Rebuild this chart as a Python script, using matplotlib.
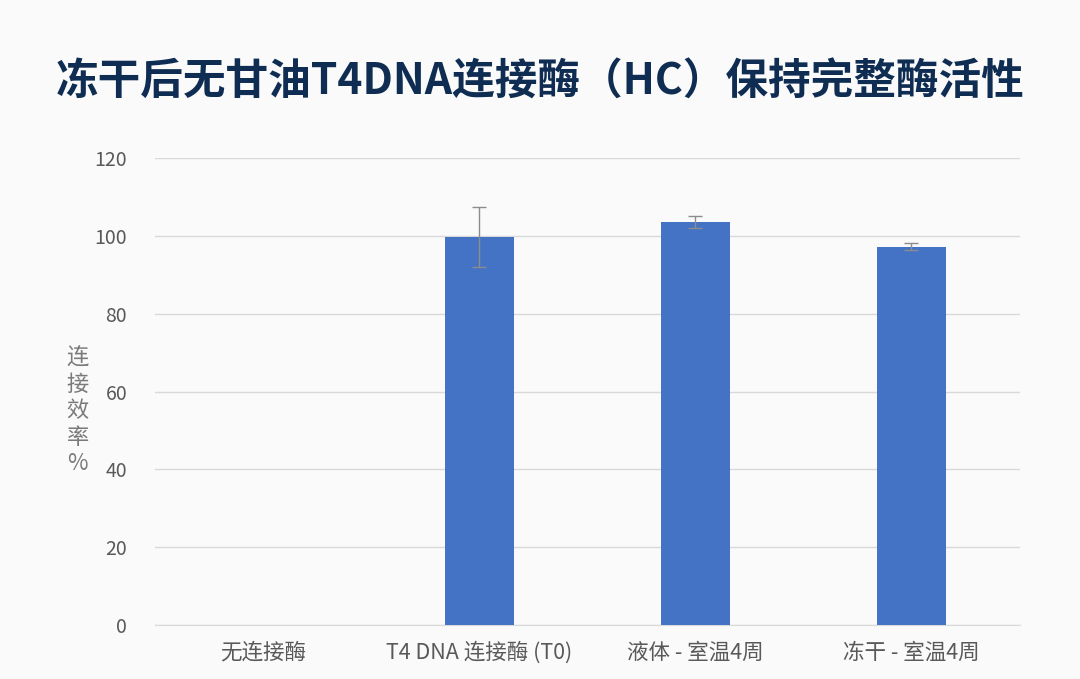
import matplotlib.pyplot as plt

plt.rcParams['font.family'] = ['Noto Sans CJK SC', 'DejaVu Sans']

# Data
categories = ["无连接酶", "T4 DNA 连接酶 (T0)", "液体 - 室温4周", "冻干 - 室温4周"]
efficiency = [0, 99.8, 103.6, 97.3]
errors = [0, 7.7, 1.5, 0.8]

fig = plt.figure(figsize=(10.8, 6.79), dpi=100, facecolor='#fafafa')
ax = fig.add_axes([0.1435, 0.0795, 0.8005, 0.6875], facecolor='#fafafa')

x = range(len(categories))
ax.bar(x, efficiency, width=0.32, color='#4472c4', zorder=3)
ax.errorbar(x[1:], efficiency[1:], yerr=errors[1:], fmt='none',
            ecolor='#8c8c8c', elinewidth=1, capsize=4.8, capthick=1, zorder=4)

ax.set_ylim(0, 120)
ax.set_xlim(-0.5, 3.5)
ax.set_yticks(range(0, 121, 20))
ax.set_xticks(list(x))
ax.set_xticklabels(categories)
ax.grid(axis='y', color='#d9d9d9', linewidth=1, zorder=0)
for s in ['top', 'right', 'left']:
    ax.spines[s].set_visible(False)
ax.spines['bottom'].set_color('#d9d9d9')
ax.tick_params(axis='x', length=0, labelsize=15.5, colors='#595959', pad=12)
ax.tick_params(axis='y', length=0, labelsize=14, colors='#595959', pad=20)

fig.text(0.072, 0.395, "连\n接\n效\n率\n%", ha='center', va='center',
         fontsize=16, color='#7a7a7a', linespacing=1.2)

fig.text(0.5, 0.88, "冻干后无甘油T4DNA连接酶（HC）保持完整酶活性",
         ha='center', va='center', fontsize=30.7, fontweight='bold', color='#0f2d52')

fig.savefig('out.png', dpi=100, facecolor=fig.get_facecolor())
